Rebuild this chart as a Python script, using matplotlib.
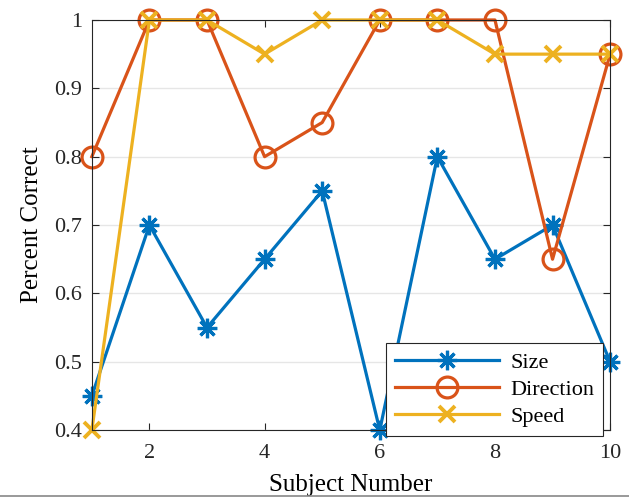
import matplotlib
matplotlib.use("Agg")
import matplotlib.pyplot as plt
from matplotlib.lines import Line2D

subjects = [1, 2, 3, 4, 5, 6, 7, 8, 9, 10]
size_vals = [0.45, 0.70, 0.55, 0.65, 0.75, 0.40, 0.80, 0.65, 0.70, 0.50]
direction_vals = [0.80, 1.00, 1.00, 0.80, 0.85, 1.00, 1.00, 1.00, 0.65, 0.95]
speed_vals = [0.40, 1.00, 1.00, 0.95, 1.00, 1.00, 1.00, 0.95, 0.95, 0.95]
y_ticks = [0.4, 0.5, 0.6, 0.7, 0.8, 0.9, 1.0]
y_labels = ["0.4", "0.5", "0.6", "0.7", "0.8", "0.9", "1"]
x_ticks = [2, 4, 6, 8, 10]

plt.rcParams["font.family"] = ["Liberation Serif", "DejaVu Serif"]

fig = plt.figure(figsize=(6.29, 4.99), dpi=100)
ax = fig.add_axes([0.146, 0.138, 0.824, 0.822])

lw = 2.3
ax.plot(subjects, size_vals, color="#0072BD", lw=lw, marker=(8, 2, 0),
        markersize=14, markeredgewidth=2.3, label="Size", clip_on=False)
ax.plot(subjects, direction_vals, color="#D95319", lw=lw, marker="o",
        markersize=15, markerfacecolor="none", markeredgewidth=2.3,
        label="Direction", clip_on=False)
ax.plot(subjects, speed_vals, color="#EDB120", lw=lw, marker="x",
        markersize=12, markeredgewidth=2.8, label="Speed", clip_on=False)

ax.set_xlim(1, 10)
ax.set_ylim(0.4, 1.0)
ax.set_xticks(x_ticks)
ax.set_yticks(y_ticks)
ax.set_yticklabels(y_labels)
ax.tick_params(direction="in", length=5, width=0.8, labelsize=16, pad=7,
               top=True, right=True, colors="#262626")
ax.tick_params(axis="x", pad=10)
ax.yaxis.grid(True, color="#e6e6e6", lw=1.0)
ax.set_axisbelow(True)
for s in ax.spines.values():
    s.set_color("#262626")
    s.set_linewidth(0.8)

ax.set_xlabel("Subject Number", fontsize=18, labelpad=8)
ax.set_ylabel("Percent Correct", fontsize=18, labelpad=8)

leg = ax.legend(loc="lower right", bbox_to_anchor=(0.9587, 0.1263),
                bbox_transform=fig.transFigure, fontsize=16, fancybox=False,
                edgecolor="#262626", framealpha=1, handlelength=4.7,
                borderpad=0.4, labelspacing=0.3, handletextpad=0.5,
                borderaxespad=0)
leg.get_frame().set_linewidth(0.8)
leg.set_zorder(5)

fig.add_artist(Line2D([0, 1], [0.006, 0.006], transform=fig.transFigure,
                      color="#888888", lw=1.2))

fig.savefig("out.png", dpi=100)
